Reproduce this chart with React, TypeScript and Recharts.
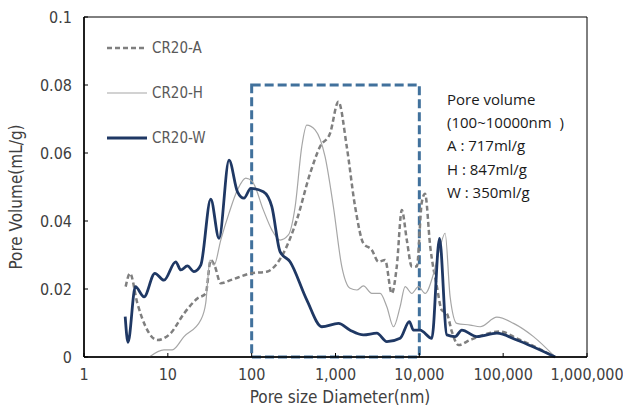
import React from 'react';
import { LineChart, Line, XAxis, YAxis, ReferenceArea, Customized } from 'recharts';

// pore diameter (nm) / pore volume (mL/g)
const sizesA = [3.14, 3.54, 4.33, 5.44, 7.5, 10.8, 15.6, 22.5, 28.3, 32.5, 36, 42.8, 56, 97.5, 151, 239, 345, 498, 655, 862, 1083, 1362, 1714, 2154, 2710, 3250, 3907, 4690, 5380, 6180, 7090, 8130, 9330, 10700, 11700, 13500, 16200, 18500, 21300, 24400, 29300, 40400, 58200, 92000, 145000, 417000];
const volumesA = [0.0207, 0.0246, 0.0158, 0.0089, 0.005, 0.007, 0.0128, 0.0172, 0.0187, 0.0285, 0.027, 0.0217, 0.0226, 0.0246, 0.0251, 0.0305, 0.0403, 0.054, 0.0619, 0.0658, 0.0751, 0.0619, 0.0442, 0.0334, 0.0315, 0.028, 0.0285, 0.0187, 0.0266, 0.0432, 0.0344, 0.0266, 0.0266, 0.0455, 0.048, 0.0324, 0.0207, 0.0138, 0.0128, 0.0075, 0.0035, 0.005, 0.0065, 0.0075, 0.0055, 0];

const sizesH = [6.0, 9.0, 11.3, 15.6, 24.7, 28.3, 31.9, 35.6, 42.8, 53.7, 67.6, 85, 102, 138, 174, 218, 274, 330, 396, 454, 571, 751, 944, 1189, 1494, 1794, 2153, 2709, 3405, 4094, 4913, 5902, 6770, 8130, 9770, 11700, 14800, 17700, 20300, 23300, 28000, 40400, 53200, 84100, 133000, 230000, 417000];
const volumesH = [0, 0.0021, 0.0021, 0.006, 0.0109, 0.0158, 0.0285, 0.027, 0.0344, 0.0423, 0.0491, 0.0526, 0.0516, 0.0432, 0.0374, 0.0344, 0.0359, 0.0442, 0.0619, 0.0682, 0.0668, 0.0589, 0.0442, 0.0266, 0.0202, 0.0197, 0.0209, 0.0187, 0.0187, 0.0148, 0.0089, 0.0148, 0.0207, 0.0187, 0.0207, 0.0187, 0.0246, 0.0324, 0.0364, 0.0177, 0.0099, 0.0094, 0.0089, 0.0117, 0.0099, 0.006, 0];

const sizesW = [3.1, 3.35, 4.1, 5.2, 7.0, 9.0, 12.4, 14.3, 17.1, 20.5, 24.7, 32.5, 40.8, 53.7, 67.7, 81, 97.5, 138, 174, 218, 287, 454, 686, 1084, 1494, 2153, 3111, 4094, 5902, 7600, 8510, 10200, 14100, 17400, 21300, 26700, 32100, 48500, 84100, 145000, 417000];
const volumesW = [0.0119, 0.0043, 0.0207, 0.0177, 0.0246, 0.0226, 0.028, 0.0256, 0.0268, 0.0251, 0.027, 0.0464, 0.0349, 0.0579, 0.0486, 0.0467, 0.0496, 0.0486, 0.0442, 0.031, 0.028, 0.0168, 0.0089, 0.0099, 0.0079, 0.0065, 0.007, 0.0045, 0.0055, 0.0104, 0.0079, 0.0079, 0.0055, 0.0349, 0.0065, 0.006, 0.0079, 0.006, 0.007, 0.005, 0];

const xTicks = [1, 10, 100, 1000, 10000, 100000, 1000000];
const yTicks = [0, 0.02, 0.04, 0.06, 0.08, 0.1];
const boxRange = [100, 10000, 0, 0.08];
const noteLines = ['Pore volume', '(100~10000nm  )', 'A : 717ml/g', 'H : 847ml/g', 'W : 350ml/g'];

const toPoints = (sizes: number[], volumes: number[]) => sizes.map((x, i) => ({ x, y: volumes[i] }));

const series = [
  { name: 'CR20-A', data: toPoints(sizesA, volumesA), color: '#7f7f7f', width: 2.5, dash: '5 3' },
  { name: 'CR20-H', data: toPoints(sizesH, volumesH), color: '#a6a6a6', width: 1.2, dash: undefined },
  { name: 'CR20-W', data: toPoints(sizesW, volumesW), color: '#1f3864', width: 2.8, dash: undefined },
];

const tickFont = { fontFamily: '"DejaVu Sans Condensed", "DejaVu Sans"', fontSize: 16, fill: '#404040', fontStretch: 'condensed' };

const Overlay = () => (
  <g>
    {series.map((s, i) => (
      <g key={s.name}>
        <line x1={107} x2={147} y1={48 + i * 45} y2={48 + i * 45} stroke={s.color} strokeWidth={s.width} strokeDasharray={s.dash} />
        <text x={152} y={53 + i * 45} fontFamily='"DejaVu Sans Condensed", "DejaVu Sans"' fontSize={15} fill="#595959">{s.name}</text>
      </g>
    ))}
    {noteLines.map((t, i) => (
      <text key={t} x={447} y={105 + i * 23.2} fontFamily='"Open Sans"' fontSize={15} fill="#1a1a1a" style={{ whiteSpace: 'pre' }}>{t}</text>
    ))}
    <text x={340} y={403} textAnchor="middle" fontFamily='"DejaVu Sans Condensed", "DejaVu Sans"' fontSize={17} fill="#404040">Pore size Diameter(nm)</text>
    <text transform="translate(22,197) rotate(-90)" textAnchor="middle" fontFamily='"DejaVu Sans Condensed", "DejaVu Sans"' fontSize={17} fill="#404040">Pore Volume(mL/g)</text>
  </g>
);

export default function App() {
  return (
    <div style={{ position: 'absolute', left: 0, top: 0, background: '#fff' }}>
      <LineChart width={623} height={410} margin={{ top: 17, right: 36, left: 24, bottom: 23 }}>
        <XAxis
          type="number"
          dataKey="x"
          scale="log"
          domain={[1, 1000000]}
          ticks={xTicks}
          allowDataOverflow
          tickFormatter={(v: number) => v.toLocaleString('en-US')}
          height={30}
          tickSize={-4}
          tickMargin={16}
          tick={tickFont}
          axisLine={{ stroke: '#000', strokeWidth: 1.5 }}
          tickLine={{ stroke: '#000' }}
          interval={0}
        />
        <YAxis
          type="number"
          domain={[0, 0.1]}
          ticks={yTicks}
          width={60}
          tickSize={-4}
          tickMargin={16}
          tick={tickFont}
          tickFormatter={(v: number) => String(v)}
          axisLine={{ stroke: '#000', strokeWidth: 1.5 }}
          tickLine={{ stroke: '#000' }}
          interval={0}
        />
        <ReferenceArea x1={1} x2={1000000} y1={0} y2={0.1} fill="none" stroke="#000" strokeWidth={1} />
        {series.map(s => (
          <Line
            key={s.name}
            data={s.data}
            dataKey="y"
            type="monotone"
            stroke={s.color}
            strokeWidth={s.width}
            strokeDasharray={s.dash}
            dot={false}
            activeDot={false}
            isAnimationActive={false}
          />
        ))}
        <ReferenceArea
          x1={boxRange[0]}
          x2={boxRange[1]}
          y1={boxRange[2]}
          y2={boxRange[3]}
          fill="none"
          stroke="#41719c"
          strokeWidth={3}
          strokeDasharray="9 4"
        />
        <Customized component={Overlay} />
      </LineChart>
    </div>
  );
}
